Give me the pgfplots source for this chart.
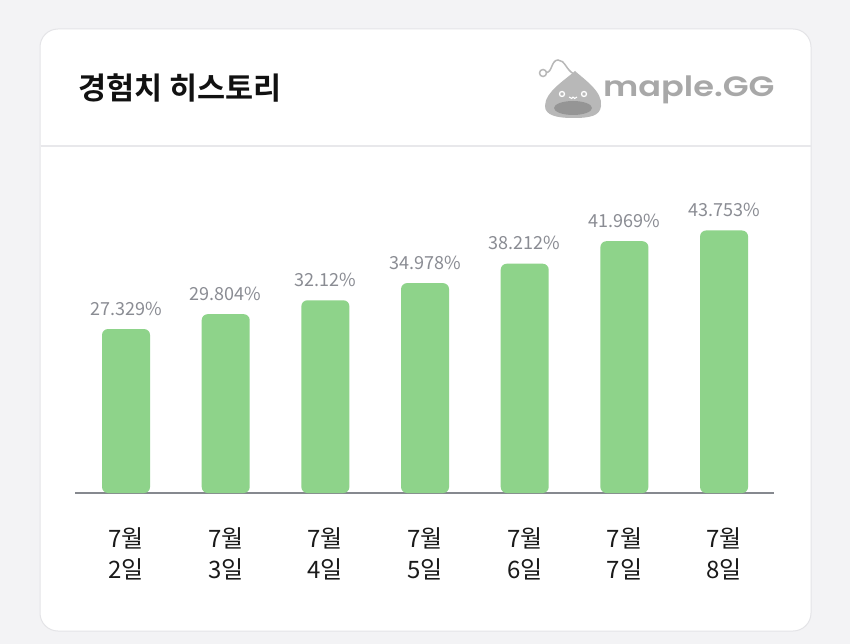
\documentclass[border=0pt]{standalone}
\usepackage{fontspec}
\usepackage{pgfplots}
\usepackage{pgfplotstable}
\pgfplotsset{compat=1.18}
\setmainfont{Noto Sans CJK KR}[BoldFont={Noto Sans CJK KR Bold}]
\newfontfamily\logofont{Poppins}[BoldFont={Poppins SemiBold}, FakeStretch=1.2]
\definecolor{bgc}{HTML}{F3F3F5}
\definecolor{cardedge}{HTML}{E4E4E7}
\definecolor{divc}{HTML}{E8E8EB}
\definecolor{titlec}{HTML}{111111}
\definecolor{barg}{HTML}{8ED38A}
\definecolor{valc}{HTML}{8A8C93}
\definecolor{axisc}{HTML}{86898F}
\definecolor{labc}{HTML}{1A1A1A}
\definecolor{logoc}{HTML}{A8A8A8}
\definecolor{blobc}{HTML}{B8B8B8}
\definecolor{mouthc}{HTML}{959595}
\pgfplotstableread{
i v
0 27.329
1 29.804
2 32.12
3 34.978
4 38.212
5 41.969
6 43.753
}\datatable
\begin{document}
\begin{tikzpicture}[x=1pt,y=1pt]
\useasboundingbox (0,0) rectangle (850,-644);
\fill[bgc] (0,0) rectangle (850,-644);
\draw[cardedge, fill=white, rounded corners=18pt, line width=1pt] (40,-29) rectangle (811,-631);
\draw[divc, line width=2pt] (40.5,-146) -- (810.5,-146);
\node[anchor=base west, font=\bfseries\fontsize{30.5}{36}\selectfont, text=titlec, inner sep=0] at (78,-100) {경험치 히스토리};
% logo mascot
\draw[blobc, line width=1.5pt] (546,-72) .. controls (552,-74) and (551,-60) .. (558,-60) .. controls (565,-60) and (566,-70) .. (574,-74);
\draw[blobc, fill=white, line width=1.5pt] (543,-73) circle (3.5);
\fill[blobc] (575,-71) .. controls (585,-80) and (603,-92) .. (601,-106) .. controls (600,-116) and (590,-118) .. (573,-118) .. controls (556,-118) and (545,-115) .. (545,-106) .. controls (545,-92) and (565,-80) .. (575,-71) -- cycle;
\fill[mouthc] (573,-108) ellipse (19 and 7);
\draw[white, line width=1.3pt] (562,-94) circle (2.5);
\draw[white, line width=1.3pt] (584,-94) circle (2.5);
\draw[white, line width=1pt] (569,-97) .. controls (571,-99) and (573,-99) .. (573,-97) .. controls (573,-99) and (576,-99) .. (577,-97);
\node[anchor=base west, inner sep=0, text=logoc, font=\logofont\bfseries\fontsize{28}{30}\selectfont] at (603,-97) {maple.GG};
\begin{axis}[
  at={(75pt,-493pt)}, anchor=south west,
  x=99.67pt, y=6pt,
  xmin=-0.512, xmax=6.5, ymin=1, ymax=52,
  axis x line=bottom, axis y line=none,
  x axis line style={-, draw=axisc, line width=2pt},
  xtick={0,...,6},
  xticklabels={{7월\\2일},{7월\\3일},{7월\\4일},{7월\\5일},{7월\\6일},{7월\\7일},{7월\\8일}},
  major tick length=0pt,
  xticklabel style={align=center, inner sep=0pt, font=\fontsize{24}{31}\selectfont, text=labc, yshift=-34pt},
  ytick=\empty,
]
\addplot[ybar, bar width=48pt, fill=barg, draw=none, rounded corners=6pt,
  point meta=explicit symbolic,
  nodes near coords={\pgfplotspointmeta\%},
  every node near coord/.append style={font=\fontsize{18}{18}\selectfont, text=valc, anchor=base, inner sep=0pt, yshift=14pt}]
  table[x=i, y expr=\thisrow{v}+1, meta=v] {\datatable};
\end{axis}
\end{tikzpicture}
\end{document}
